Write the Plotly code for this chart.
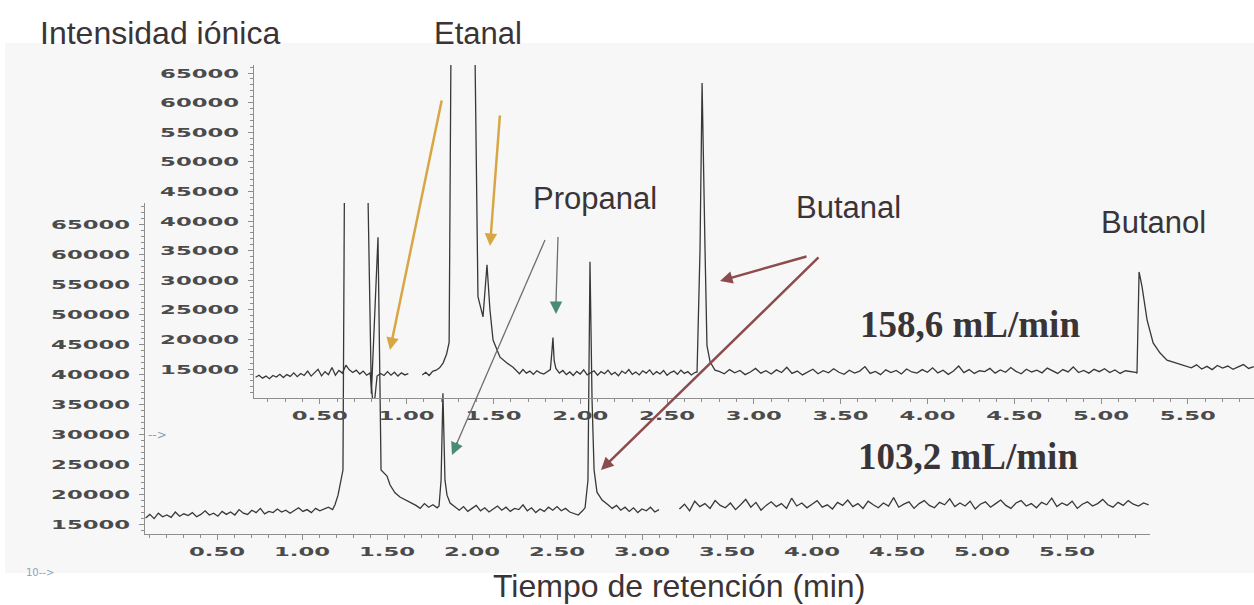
import plotly.graph_objects as go

FIG_W, FIG_H = 1254, 605

# ---------------- 158,6 mL/min run (upper chromatogram) ----------------
# baseline stretches are sampled on a regular time grid: (start min, step min, intensities)
TOP_BASE_1 = (0.13, 0.02, [
    13600, 13950, 13450, 13800, 13350, 13900, 13650, 14100, 13550, 14050,
    13750, 14350, 13700, 14250, 13900, 14650, 13800, 14450, 14950, 13850,
    14550, 14050, 15250, 13950, 14750, 14300, 15650, 14850, 14400, 14800,
    14150, 14650, 13950, 14350, 8000, 13800, 14250, 13900, 14550, 13950,
    14450, 13800, 14350, 14000, 14200])
TOP_ETANAL_T = [1.09, 1.11, 1.13, 1.15, 1.17, 1.19, 1.21, 1.23, 1.245, 1.26,
                1.385, 1.411, 1.44, 1.463, 1.48, 1.498, 1.538, 1.578, 1.613]
TOP_ETANAL_I = [14000, 14450, 13900, 14600, 14800, 15200, 16000, 17500, 19500, 90000,
                90000, 27200, 23800, 32600, 25000, 19900, 17000, 16000, 15300]
TOP_BASE_2 = (1.63, 0.02, [14800, 14200, 14900, 14300, 14650, 14100, 14700, 14350, 14150, 14600])
TOP_PROPANAL_T = [1.828, 1.836, 1.843, 1.85, 1.86]
TOP_PROPANAL_I = [14900, 17600, 20300, 16400, 15100]
TOP_BASE_3 = (1.88, 0.02, [
    14300, 14750, 14050, 14500, 13900, 14600, 14150, 14850, 14000, 14400,
    14700, 13950, 14550, 14200, 14800, 14050, 14450, 13850, 14650, 14250,
    14900, 14100, 14500, 14000, 14700, 14300, 14850, 14050, 14550, 14150,
    14750, 13950, 14400, 14650, 14100, 14800, 14250, 14550, 14000, 14400])
TOP_BUTANAL_T = [2.673, 2.69, 2.702, 2.719, 2.73, 2.748, 2.776]
TOP_BUTANAL_I = [14500, 35100, 63300, 35100, 19000, 16200, 14800]
TOP_BASE_4 = (2.80, 0.03, [
    14600, 14200, 14900, 14350, 14750, 14050, 14500, 15100, 14300, 14700,
    14150, 14850, 14400, 15300, 14250, 14650, 14000, 14550, 14950, 14200,
    14700, 14350, 15050, 14450, 14100, 14800, 14300, 14650, 15400, 14250,
    14600, 14050, 14850, 14400, 14750, 14150, 15000, 14500, 14300, 14900,
    14450, 15200, 14350, 14800, 14100, 14650, 15500, 14400, 14900, 14250,
    14700, 14550, 15100, 14300, 14850, 14450, 15250, 14600, 14200, 14950,
    14500, 14800, 14350, 15150, 14650, 14250, 14900, 14500, 15350, 14400,
    14750, 14300, 14950, 14550, 15050, 14400, 14850, 14250, 14700, 14600,
    14450])
TOP_BUTANOL_T = [5.207, 5.219, 5.236, 5.265, 5.30, 5.34, 5.38, 5.438, 5.484]
TOP_BUTANOL_I = [14300, 31400, 28900, 23300, 19400, 17700, 16500, 16000, 15500]
TOP_BASE_5 = (5.52, 0.03, [15200, 15700, 15000, 15450, 14900, 15600, 15150, 15500,
                           14950, 15350, 15750, 15100, 15400])

# ---------------- 103,2 mL/min run (lower chromatogram) ----------------
BOT_BASE_1 = (0.08, 0.025, [
    16000, 16600, 15900, 16800, 16200, 16500, 16100, 17000, 16300, 16700,
    16400, 16900, 16200, 16600, 17200, 16500, 16800, 16300, 17100, 16600,
    17000, 16500, 17400, 16800, 16600, 17300, 16900, 17600, 16700, 17100,
    16900, 17500, 17000, 17300, 16800, 17200, 17700, 17100, 17400, 16900,
    17600, 17200, 17500, 17800, 17400])
BOT_ETANAL_T = [1.194, 1.212, 1.229, 1.241, 1.253, 1.376, 1.408, 1.447, 1.465,
                1.482, 1.50, 1.518, 1.547, 1.576, 1.612, 1.647]
BOT_ETANAL_I = [18200, 19800, 22700, 24000, 90000, 90000, 36700, 62800, 24000,
                23500, 23000, 21500, 20200, 19500, 19000, 18500]
BOT_BASE_2 = (1.67, 0.025, [18100, 17600, 18400, 17800, 18200, 17700])
BOT_PROPANAL_T = [1.806, 1.818, 1.829, 1.841, 1.853, 1.871, 1.90]
BOT_PROPANAL_I = [18000, 22300, 36800, 22300, 19800, 18500, 17800]
BOT_BASE_3 = (1.925, 0.025, [
    17300, 17900, 17100, 17600, 18100, 17200, 17700, 17000, 17500, 18000,
    17300, 17800, 17100, 17600, 17400, 18200, 17200, 17700, 16900, 17500,
    17100, 17800, 17300, 17900, 17200, 17600, 17000, 16800, 16500, 17200])
BOT_BUTANAL_T = [2.665, 2.682, 2.694, 2.706, 2.718, 2.735, 2.765, 2.80]
BOT_BUTANAL_I = [17700, 22300, 58700, 35700, 24000, 20300, 19000, 18200]
BOT_BASE_4 = (2.825, 0.025, [17600, 18100, 17300, 17800, 17100, 17700, 16900, 17500,
                             17200, 17800, 17000, 17400])
BOT_BASE_5 = (3.22, 0.03, [
    17500, 18300, 17200, 18800, 17900, 18400, 17600, 18900, 18100, 17700,
    18500, 17400, 18200, 19100, 17800, 18600, 17300, 18100, 18700, 17900,
    18400, 17600, 19300, 18000, 18500, 17700, 18300, 18900, 17800, 18200,
    17500, 18600, 18100, 19000, 17900, 18400, 17600, 18800, 18200, 17700,
    18500, 18000, 19400, 17800, 18300, 18700, 17600, 18400, 18900, 18100,
    17700, 18600, 18200, 19200, 17900, 18500, 18000, 18800, 17500, 18300,
    18700, 17800, 18400, 19000, 18100, 17600, 18500, 18900, 18000, 18400,
    17700, 18600, 18200, 19300, 17900, 18500, 18100, 18800, 17600, 18300,
    18700, 18000, 18400, 19100, 18200, 17800, 18600, 18100, 18900, 18300,
    18000, 18500, 18200])

# ---------------- axes ----------------
X_TICKS = [0.5, 1.0, 1.5, 2.0, 2.5, 3.0, 3.5, 4.0, 4.5, 5.0, 5.5]
X_TICK_TEXT = ["0.50", "1.00", "1.50", "2.00", "2.50", "3.00", "3.50", "4.00", "4.50", "5.00", "5.50"]
Y_TICKS = [15000, 20000, 25000, 30000, 35000, 40000, 45000, 50000, 55000, 60000, 65000]
Y_TICK_TEXT = ["15000", "20000", "25000", "30000", "35000", "40000", "45000", "50000", "55000", "60000", "65000"]

GAP = None


def sampled(block):
    t0, dt, vals = block
    return [round(t0 + k * dt, 4) for k in range(len(vals))], list(vals)


def assemble(pieces):
    ts, vs = [], []
    for p in pieces:
        if p is GAP:
            ts.append(None)
            vs.append(None)
        else:
            ts += list(p[0])
            vs += list(p[1])
    return ts, vs


top_t, top_i = assemble([
    sampled(TOP_BASE_1), GAP,
    (TOP_ETANAL_T, TOP_ETANAL_I),
    sampled(TOP_BASE_2),
    (TOP_PROPANAL_T, TOP_PROPANAL_I),
    sampled(TOP_BASE_3),
    (TOP_BUTANAL_T, TOP_BUTANAL_I),
    sampled(TOP_BASE_4),
    (TOP_BUTANOL_T, TOP_BUTANOL_I),
    sampled(TOP_BASE_5),
])

bot_t, bot_i = assemble([
    sampled(BOT_BASE_1),
    (BOT_ETANAL_T, BOT_ETANAL_I),
    sampled(BOT_BASE_2),
    (BOT_PROPANAL_T, BOT_PROPANAL_I),
    sampled(BOT_BASE_3),
    (BOT_BUTANAL_T, BOT_BUTANAL_I),
    sampled(BOT_BASE_4), GAP,
    sampled(BOT_BASE_5),
])

TRACE_COLOR = "#383838"
AXIS_COLOR = "#8e8e8e"
TEXT_COLOR = "#3a3437"

fig = go.Figure()
fig.add_trace(go.Scatter(x=bot_t, y=bot_i, mode="lines", connectgaps=False,
                         line=dict(color=TRACE_COLOR, width=1.3),
                         xaxis="x", yaxis="y", hoverinfo="skip", showlegend=False))
fig.add_trace(go.Scatter(x=top_t, y=top_i, mode="lines", connectgaps=False,
                         line=dict(color=TRACE_COLOR, width=1.3),
                         xaxis="x2", yaxis="y2", hoverinfo="skip", showlegend=False))


def px(x):
    return x / FIG_W


def py(y):
    return 1 - y / FIG_H


tick_font = dict(family="DejaVu Sans", size=13, color="#4b4b4b", weight="bold")
common = dict(showline=True, linecolor=AXIS_COLOR, linewidth=1.4, ticks="outside",
              ticklen=5, tickwidth=1, tickcolor=AXIS_COLOR, showgrid=False,
              zeroline=False, tickfont=tick_font, fixedrange=True)

x_common = dict(common, tickmode="array", tickvals=X_TICKS, ticktext=X_TICK_TEXT,
                ticklabelstandoff=0,
                minor=dict(tickmode="linear", tick0=0, dtick=0.1, ticklen=3,
                           ticks="outside", tickcolor=AXIS_COLOR))
y_common = dict(common, tickmode="array", tickvals=Y_TICKS, ticktext=Y_TICK_TEXT,
                ticklabelstandoff=6,
                minor=dict(tickmode="linear", tick0=0, dtick=1000, ticklen=2.5,
                           ticks="outside", tickcolor=AXIS_COLOR))

fig.update_layout(
    width=FIG_W, height=FIG_H,
    margin=dict(l=0, r=0, t=0, b=0),
    paper_bgcolor="white", plot_bgcolor="rgba(0,0,0,0)",
    xaxis=dict(x_common, domain=[px(145), px(1150)], range=[0.0765, 5.988], anchor="y"),
    yaxis=dict(y_common, domain=[py(534), py(203)], range=[13333, 68500], anchor="x"),
    xaxis2=dict(x_common, domain=[px(254), 1.0], range=[0.121, 5.881], anchor="y2"),
    yaxis2=dict(y_common, domain=[py(398), py(65)], range=[10101, 66351], anchor="x2"),
)

shapes = [
    dict(type="rect", xref="paper", yref="paper", x0=px(5), x1=1.0, y0=py(573), y1=py(43),
         fillcolor="#f7f7f7", line=dict(width=0), layer="below"),
    # grey stems of the two teal-headed arrows
    dict(type="line", xref="paper", yref="paper", x0=px(545), y0=py(240), x1=px(457), y1=py(443),
         line=dict(color="#6e6e6e", width=1.3)),
    dict(type="line", xref="paper", yref="paper", x0=px(558), y0=py(237), x1=px(556), y1=py(302),
         line=dict(color="#6e6e6e", width=1.3)),
]
fig.update_layout(shapes=shapes)

annotations = []


def label(text, x, y, size=31, family="Liberation Sans", color=TEXT_COLOR):
    annotations.append(dict(text=text, x=px(x), y=py(y), xref="paper", yref="paper",
                            xanchor="center", yanchor="middle", showarrow=False,
                            font=dict(family=family, size=size, color=color)))


def arrow(tail, tip, color, width=2.5):
    annotations.append(dict(text="", x=px(tip[0]), y=py(tip[1]), xref="paper", yref="paper",
                            ax=tail[0] - tip[0], ay=tail[1] - tip[1],
                            axref="pixel", ayref="pixel", showarrow=True,
                            arrowhead=2, arrowsize=1, arrowwidth=width, arrowcolor=color))


label("Intensidad iónica", 160, 33, size=32)
label("Etanal", 478, 33)
label("Propanal", 595, 198)
label("Butanal", 848, 207)
label("Butanol", 1153, 223)
label("Tiempo de retención (min)", 679, 586, size=32)
label("<b>158,6 mL/min</b>", 970, 324, size=37, family="Liberation Serif")
label("<b>103,2 mL/min</b>", 968, 456, size=37, family="Liberation Serif")
label("-->", 157, 435, size=12, family="DejaVu Sans", color="#8aa2bd")
label("10-->", 40, 572, size=10, family="DejaVu Sans", color="#86a6c6")

GOLD = "#d9a645"
MAROON = "#8c4b4d"
TEAL = "#4a8b78"
arrow((442, 99), (390, 350), GOLD)
arrow((500, 114), (490, 246), GOLD)
arrow((808, 256), (720, 281), MAROON)
arrow((820, 256), (601, 470), MAROON)
arrow((458, 441), (452, 455), TEAL)
arrow((556, 300), (556, 314), TEAL)

fig.update_layout(annotations=annotations)

# widen the tick-label glyphs horizontally (extended instrument typeface)
post_js = """
document.body.style.margin = '0';
var gd = document.getElementById('{plot_id}');
function widenTicks() {
  gd.querySelectorAll('g.xtick text, g.ytick text, g.x2tick text, g.y2tick text').forEach(function (t) {
    var tr = t.getAttribute('transform') || '';
    if (tr.indexOf('scale(') >= 0) return;
    var x = parseFloat(t.getAttribute('x') || 0);
    t.setAttribute('transform', tr + ' translate(' + x + ',0) scale(1.75,1) translate(' + (-x) + ',0)');
  });
}
widenTicks();
gd.on('plotly_afterplot', widenTicks);
"""

fig.write_html("out.html", post_script=post_js, config=dict(displayModeBar=False))
